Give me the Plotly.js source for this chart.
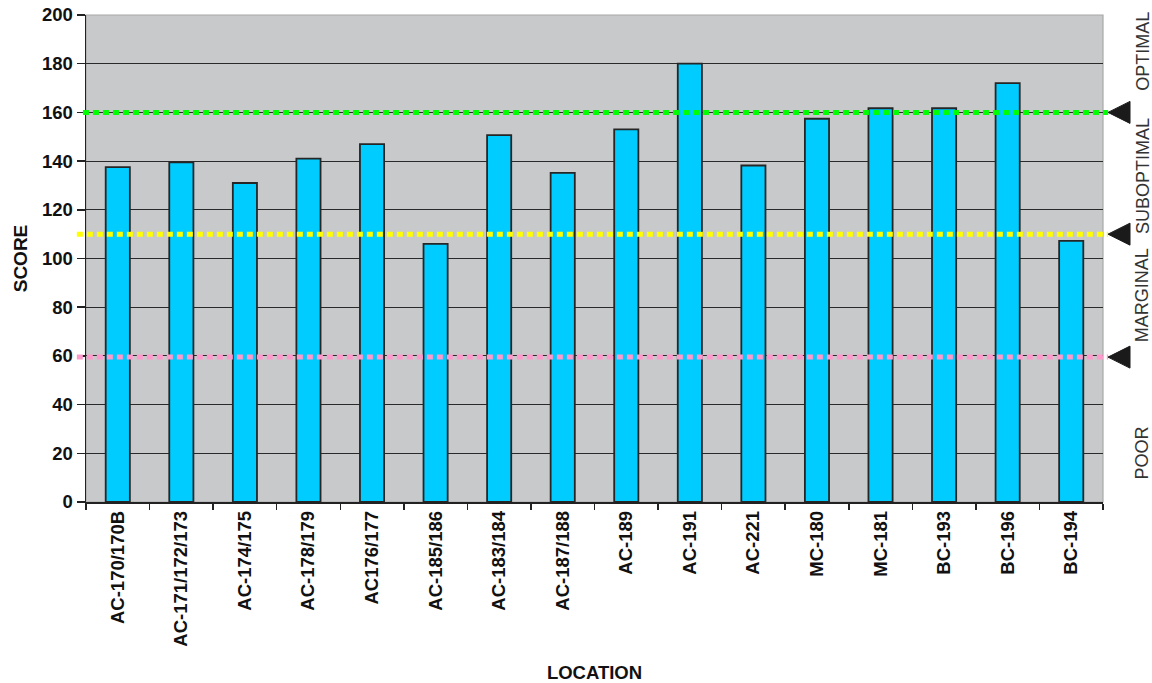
<!DOCTYPE html>
<html><head><meta charset="utf-8">
<script src="https://cdn.plot.ly/plotly-3.0.1.min.js"></script>
<style>html,body{margin:0;padding:0;background:#fff}#chart{width:1152px;height:683px}</style>
</head><body><div id="chart"></div>
<script>
const locations = ["AC-170/170B","AC-171/172/173","AC-174/175","AC-178/179","AC176/177","AC-185/186","AC-183/184","AC-187/188","AC-189","AC-191","AC-221","MC-180","MC-181","BC-193","BC-196","BC-194"];
const scores = [137.5,139.5,131,141,147,106,150.7,135.2,153,180,138.2,157.4,161.7,161.7,172,107.2];
const thresholdValues = [160, 110, 59.5];
const thresholdColors = ["#00ff00", "#ffff00", "#ff99cc"];
const zoneLabels = ["OPTIMAL","SUBOPTIMAL","MARGINAL","POOR"];
const zoneLabelY = [185, 134, 85, 20];
const yTicks = [0,20,40,60,80,100,120,140,160,180,200];

const FONT = "Liberation Sans, Arial, sans-serif";

const bars = {
  type: 'bar', x: locations, y: scores,
  marker: {color: '#00ccff', line: {color: '#262626', width: 1.8}},
  hoverinfo: 'x+y', showlegend: false
};

const shapes = [
  {type:'rect', xref:'paper', yref:'paper', x0:0, x1:1, y0:0, y1:1, line:{color:'#a8a8a8', width:1.2}, layer:'below'}
];
thresholdValues.forEach((v,i) => {
  shapes.push({
    type:'line', xref:'paper', yref:'y', x0: i===0 ? -0.003 : -0.009, x1: 1.005, y0: v, y1: v,
    line:{color: thresholdColors[i], width: 5, dash: '6px,4px'}, layer:'above'
  });
  shapes.push({
    type:'path', xref:'paper', yref:'y', xsizemode:'pixel', ysizemode:'pixel',
    xanchor: 1, yanchor: v, path: 'M 5 0 L 27 11 L 27 -11 Z',
    fillcolor:'#1a1a1a', line:{color:'#1a1a1a', width:1}, layer:'above'
  });
});

const annotations = zoneLabels.map((t,i) => ({
  text: t, xref:'paper', yref:'y', x: 1.0386, y: zoneLabelY[i], showarrow:false,
  textangle: -90, font:{family: FONT, size: 18, color:'#333'}, xanchor:'center', yanchor:'middle'
}));

const layout = {
  width: 1152, height: 683,
  margin: {l: 86, r: 49, t: 15, b: 181},
  paper_bgcolor: '#ffffff', plot_bgcolor: '#c8c9cb',
  bargap: 0.62,
  xaxis: {
    type: 'category', tickangle: -90, ticks: 'outside', tickson: 'boundaries', ticklen: 6,
    tickcolor: '#222', tickwidth: 1.5, showline: true, linecolor: '#222', linewidth: 1.5,
    tickfont: {family: FONT, size: 18.5, color: '#111', weight: 'bold'},
    title: {text: 'LOCATION', font: {family: FONT, size: 18.5, color: '#111', weight: 'bold'}, standoff: 22},
    showgrid: false, fixedrange: true
  },
  yaxis: {
    range: [0, 200], tickvals: yTicks, ticks: 'outside', ticklen: 8, tickcolor: '#222', tickwidth: 1.5,
    showline: true, linecolor: '#222', linewidth: 1.5,
    showgrid: true, gridcolor: '#2a2a2a', gridwidth: 1.2, zeroline: false,
    tickfont: {family: FONT, size: 18.5, color: '#111', weight: 'bold'},
    title: {text: 'SCORE', font: {family: FONT, size: 19, color: '#111', weight: 'bold'}, standoff: 9},
    fixedrange: true
  },
  shapes: shapes, annotations: annotations
};
Plotly.newPlot('chart', [bars], layout, {displayModeBar: false, staticPlot: true});
</script></body></html>
